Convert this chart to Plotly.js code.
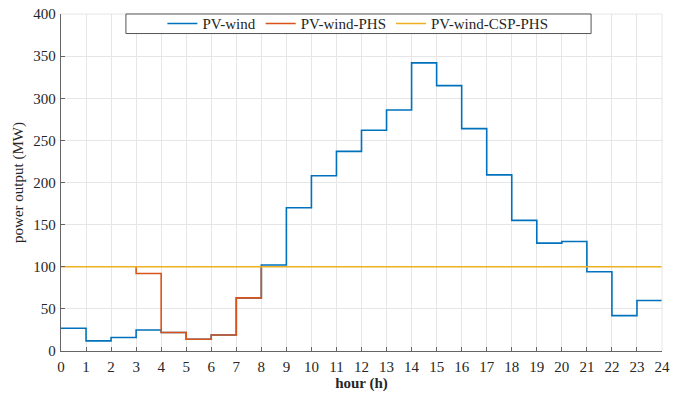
<!DOCTYPE html>
<html>
<head>
<meta charset="utf-8">
<script src="https://cdn.plot.ly/plotly-3.0.1.min.js"></script>
<style>html,body{margin:0;padding:0;background:#fff;}#chart{width:678px;height:394px;}</style>
</head>
<body>
<div id="chart"></div>
<script>
// Hourly values (hour h covers [h, h+1))
const hours = [0,1,2,3,4,5,6,7,8,9,10,11,12,13,14,15,16,17,18,19,20,21,22,23];
const pvWind = [27,12,16,25,22,14,19,63,102,170,208,237,262,286,342,315,264,209,155,128,130,94,42,60];
const phsHours = [3,4,5,6,7];
const pvWindPHS = [92,22,14,19,63];
const phsBefore = 100;   // level just before PHS period
const phsAfter = 100;    // level at end of PHS period
const cspLevel = 100;
const seriesNames = ["PV-wind","PV-wind-PHS","PV-wind-CSP-PHS"];
const colors = ["#0072BD","#D95319","#EDB120"];

// step traces (hv)
const bx = hours.concat([24]);
const by = pvWind.concat([pvWind[pvWind.length-1]]);
const ox = [phsHours[0]].concat(phsHours, [phsHours[phsHours.length-1]+1]);
const oy = [phsBefore].concat(pvWindPHS, [phsAfter]);

const fam = "'Liberation Serif', 'Times New Roman', Times, serif";
const font = {family:fam, size:15, color:"#262626"};
const traces = [
  {x:bx, y:by, name:seriesNames[0], mode:"lines", line:{shape:"hv", color:colors[0], width:1.6}},
  {x:ox, y:oy, name:seriesNames[1], mode:"lines", line:{shape:"hv", color:colors[1], width:1.6}},
  {x:[0,24], y:[cspLevel,cspLevel], name:seriesNames[2], mode:"lines", line:{color:colors[2], width:1.6}}
];
const layout = {
  width:678, height:394,
  margin:{l:61, r:16, t:14, b:43, autoexpand:false},
  paper_bgcolor:"#fff", plot_bgcolor:"#fff",
  font:font,
  showlegend:true,
  legend:{orientation:"h", x:0.494, xanchor:"center", y:1.02, yanchor:"top",
          borderwidth:0, bgcolor:"rgba(0,0,0,0)",
          font:{family:fam, size:15, color:"#262626"}, traceorder:"normal"},
  xaxis:{range:[0,24], dtick:1, tick0:0, showgrid:true, gridcolor:"#e6e6e6", gridwidth:1,
         zeroline:false, showline:true, linecolor:"#666", linewidth:1.2,
         ticks:"inside", ticklen:4, tickcolor:"#666", mirror:false, ticklabelstandoff:2,
         automargin:false,
         tickfont:{family:fam, size:15, color:"#262626"},
         title:{text:"<b>hour (h)</b>", font:{family:fam, size:15, color:"#262626"}, standoff:2}},
  yaxis:{range:[0,400], dtick:50, tick0:0, showgrid:true, gridcolor:"#e6e6e6", gridwidth:1,
         zeroline:false, showline:true, linecolor:"#666", linewidth:1.2,
         ticks:"inside", ticklen:4, tickcolor:"#666", ticklabelstandoff:1,
         automargin:false,
         tickfont:{family:fam, size:15, color:"#262626"},
         title:{text:"power output (MW)", font:{family:fam, size:15, color:"#262626"}, standoff:6}},
  shapes:[
    {type:"line", xref:"paper", yref:"paper", x0:1, x1:1, y0:0, y1:1, line:{color:"#e6e6e6", width:1}},
    {type:"line", xref:"paper", yref:"paper", x0:0, x1:1, y0:1, y1:1, line:{color:"#e6e6e6", width:1}},
    {type:"rect", xref:"paper", yref:"paper", x0:0.108, x1:0.882, y0:0.942, y1:1, layer:"above",
     fillcolor:"#fff", line:{color:"#555", width:1}}
  ]
};
Plotly.newPlot("chart", traces, layout, {staticPlot:true, displayModeBar:false});
</script>
</body>
</html>
